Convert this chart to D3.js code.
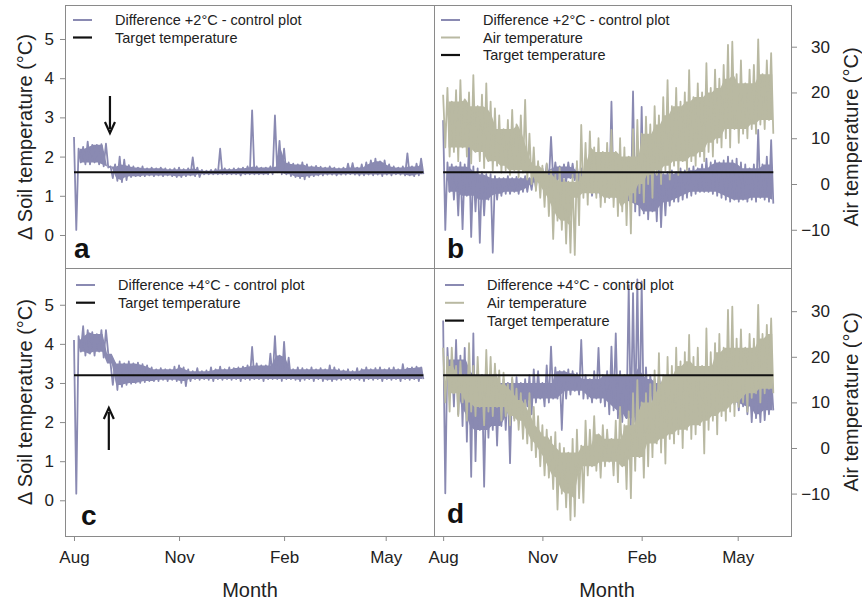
<!DOCTYPE html>
<html><head><meta charset="utf-8">
<script src="https://cdn.jsdelivr.net/npm/d3@7"></script>
<style>body{margin:0;background:#fff}svg{display:block}text{font-family:"Liberation Sans",Arial,sans-serif}</style>
</head><body><svg id="c" width="862" height="602"></svg>
<script>
// ---- data: envelopes (high / low) every 4 days from 1 Aug ----
const startDate = Date.UTC(2010, 7, 1);
const binDays = 4;
const monthLabels = ["Aug", "Nov", "Feb", "May"];
const monthDates = [Date.UTC(2010,7,1), Date.UTC(2010,10,1), Date.UTC(2011,1,1), Date.UTC(2011,4,1)];
const soilTicks = [0, 1, 2, 3, 4, 5];
const airTicks = [-10, 0, 10, 20, 30];
const target2 = 1.6;
const target4 = 3.2;

// panel a: difference +2°C - control
const diff2Hi = [2.5,2.2,2.25,2.38,2.3,2.3,2.32,2.33,1.75,1.8,2.0,1.92,1.78,1.75,1.72,1.75,1.7,1.72,1.7,1.72,1.7,1.68,1.7,1.72,1.68,1.7,1.98,1.72,1.66,1.64,1.66,1.68,2.2,1.7,1.68,1.7,1.7,1.72,1.75,3.18,1.75,1.72,1.72,1.75,3.05,2.4,2.2,1.85,1.82,1.8,1.85,1.8,1.75,1.76,1.74,1.72,1.75,1.72,1.7,1.72,1.82,1.83,1.72,1.8,1.85,1.9,1.95,1.88,1.9,1.8,1.75,1.72,1.75,2.08,1.75,1.82,1.95];
const diff2Lo = [0.13,1.85,1.8,1.8,1.85,1.8,1.75,1.72,1.45,1.38,1.35,1.4,1.48,1.5,1.5,1.5,1.52,1.5,1.52,1.5,1.52,1.5,1.48,1.48,1.5,1.52,1.5,1.48,1.55,1.55,1.55,1.55,1.55,1.55,1.55,1.55,1.52,1.55,1.55,1.55,1.55,1.55,1.55,1.55,1.6,1.55,1.55,1.5,1.48,1.45,1.42,1.48,1.5,1.52,1.52,1.54,1.54,1.52,1.54,1.54,1.55,1.54,1.52,1.52,1.54,1.52,1.54,1.5,1.54,1.52,1.55,1.54,1.52,1.52,1.5,1.52,1.55];

// panel c: difference +4°C - control
const diff4Hi = [4.1,4.2,4.45,4.35,4.3,4.25,4.35,4.35,3.5,3.5,3.55,3.5,3.55,3.5,3.52,3.48,3.45,3.4,3.35,3.38,3.35,3.35,3.42,3.45,3.4,3.35,3.3,3.38,3.3,3.32,3.4,3.35,3.42,3.35,3.4,3.38,3.4,3.42,3.45,3.92,3.5,3.45,3.45,3.75,4.2,3.7,4.05,3.65,3.35,3.4,3.38,3.35,3.4,3.35,3.38,3.35,3.45,3.4,3.35,3.32,3.35,3.3,3.38,3.35,3.4,3.35,3.38,3.4,3.35,3.38,3.4,3.35,3.48,3.38,3.4,3.42,3.4];
const diff4Lo = [0.17,3.8,3.7,3.75,3.7,3.8,3.65,3.75,2.95,2.82,2.9,2.95,2.98,3.0,3.0,3.02,3.05,3.05,3.05,3.08,3.05,3.08,3.05,3.0,2.92,3.05,3.1,3.08,3.1,3.08,3.05,3.1,3.08,3.1,3.08,3.1,3.05,3.1,3.08,3.1,3.1,3.05,3.1,3.1,3.1,3.05,3.1,3.1,3.08,3.05,3.08,3.1,3.05,3.1,3.05,3.08,3.05,3.08,3.08,3.1,3.08,3.1,3.08,3.05,3.1,3.08,3.1,3.05,3.1,3.08,3.1,3.05,3.1,3.08,3.1,3.05,3.1];

// panel b: difference +2°C (left scale) and air temperature (right scale)
const diff2bHi = [2.93,1.85,1.8,1.75,1.85,1.8,2.3,1.75,1.7,1.6,1.55,1.55,1.5,1.45,1.45,1.5,1.45,1.48,1.45,1.5,1.45,1.55,1.65,1.7,1.8,2.5,1.85,1.75,1.8,1.85,1.82,1.75,1.7,1.6,1.55,1.6,1.55,1.6,1.55,3.4,1.6,1.5,1.55,1.6,3.66,2.4,3.27,2.6,1.7,1.6,1.65,1.55,1.6,1.65,1.6,1.7,1.65,1.7,1.75,1.7,1.8,1.95,1.85,1.9,1.85,1.9,2.0,1.9,1.95,1.85,1.8,1.7,1.8,2.68,1.8,2.0,2.42];
const diff2bLo = [0.13,1.1,0.9,0.5,0.15,1.0,-0.05,0.6,-0.2,0.5,0.9,-0.45,0.9,1.0,1.05,1.05,1.1,1.05,1.1,1.1,1.15,1.2,1.3,1.35,1.35,1.4,1.4,1.3,1.35,1.45,1.4,1.3,1.2,1.1,1.0,1.05,0.95,1.0,0.95,0.95,0.9,0.85,0.8,0.75,0.6,0.5,0.55,0.4,0.6,0.35,0.2,0.5,0.75,0.85,0.85,0.9,0.95,1.0,1.05,1.1,1.1,1.1,1.05,1.0,0.95,0.9,0.85,0.9,0.85,0.9,0.85,0.9,0.85,0.95,0.9,0.85,0.8];
const air2Hi = [19.5,21,18,20.5,22.7,18.5,20,23.8,17,19.5,22,18,16.5,15,12,14,16.2,13,15,18.4,11,8,5,4,4.5,3,2,3.5,1,0.5,2,5,12.9,9,11.5,8,10,7,9,11.8,7,10,8,6,12,14,11,14.7,13,17,15,19,22.7,17,21,18,20,24.9,19,22,20,26.4,21,25,23,26,30.4,31.1,24,27,22,25,26,31.6,24,27,28.6];
const air2Lo = [8,6,7,5,8,6,4.5,7,5,3.5,5,3,4,2.5,3,2,3,1.5,2.5,1,0,-1.5,-3,-5,-7,-12,-8,-10,-13,-15,-15.5,-9,-3,-4.5,-2,-3,-5,-4,-3,-5,-7,-6,-9,-10.8,-4,-2,-4,0,-3,2,0,3,1,4,2,5,3,5,4,6,5,7,6,9,8,10,8,12,9,11,10,12,11,13,12,14,11];

// panel d: difference +4°C (left scale) and air temperature (right scale)
const diff4dHi = [4.6,3.9,3.6,4.1,3.7,3.9,3.6,4.27,3.3,3.2,3.0,3.1,3.05,3.0,3.1,3.0,3.1,3.15,3.0,3.1,3.2,3.35,3.3,3.0,3.45,3.93,3.4,3.3,3.3,3.35,3.3,3.25,4.1,3.2,3.1,3.3,3.9,3.2,3.3,3.93,4.27,3.3,3.2,5.5,5.3,5.65,5.6,3.4,3.2,3.1,3.2,3.0,3.1,3.0,3.05,3.15,3.1,3.05,3.0,3.1,3.05,3.0,3.05,3.0,3.1,3.05,3.0,3.1,3.0,3.05,3.0,3.1,3.05,3.0,3.1,3.0,3.2];
const diff4dLo = [0.18,2.8,2.4,2.2,1.9,1.5,0.6,1.0,1.8,0.35,1.6,1.8,1.4,1.9,1.8,0.95,2.1,2.3,2.2,2.4,2.2,2.5,2.6,2.4,2.5,2.6,2.6,1.8,2.6,2.7,2.8,2.7,2.6,2.6,2.5,2.6,2.5,2.4,2.2,2.3,2.1,2.0,2.1,1.9,2.0,1.8,2.0,2.3,2.5,2.6,2.7,2.7,2.7,2.75,2.7,2.7,2.75,2.7,2.7,2.65,2.7,2.6,2.65,2.5,2.55,2.4,2.5,2.45,2.3,2.4,2.2,2.0,2.1,2.0,2.05,2.2,2.3];
const air4Hi = [22,20,22,18,19,16,23,18,20,16,21.5,20,18.5,17,16.5,14,15.5,13,12,10.5,12,9,7,5,4,2.5,3.5,1,0,-1,2,4,0.5,6,4,7,3,5,4,2,6,9,5,8,12,14.9,10,12,14,17,20.8,16,20,18,22,19,21,24.8,20,22,18,26.2,21,23,25,22,30.3,31,24,26,22,25,24,31.4,25,27,28.4];
const air4Lo = [10,8,12,7,10,6,8,7,9,5,8,7,9,6,7,5,6,4,2,1,-0.5,-2,-4,-6,-6.5,-9,-13.5,-10,-13,-15.8,-15,-11,-12,-6,-4,-5,-6.5,-4,-3,-6,-7.5,-4,-9,-11,-5,-2,-6.5,-4,-2,1,-1,-3.4,2,1,3,0,4,2,3,5,-1.2,4,6,3,7,6,8,7,9,10,8,11,12,10,12,13,12];

// ---- drawing ----
const svg = d3.select("#c");
const PURPLE = "#8a8ab2", KHAKI = "#b9b9a2", FRAME = "#8a8a8a";
const DAY = 864e5;
const dOf = d => new Date(startDate + d * DAY);

const panels = {
  a: {x0:65, x1:434, y0:5, y1:268, dayL:-7.88, dayR:315.3, soil:[-0.842,5.867], air:null},
  b: {x0:434, x1:791, y0:5, y1:268, dayL:-8.46, dayR:322.4, soil:[-0.842,5.867], air:[-18.35,39.11]},
  c: {x0:65, x1:434, y0:268, y1:536, dayL:-7.88, dayR:315.3, soil:[-0.913,5.94], air:null},
  d: {x0:434, x1:791, y0:268, y1:536, dayL:-8.46, dayR:322.4, soil:[-0.913,5.94], air:[-19.3,39.47]}
};
for (const k in panels) {
  const p = panels[k];
  p.x = d3.scaleTime().domain([dOf(p.dayL), dOf(p.dayR)]).range([p.x0, p.x1]);
  p.ys = d3.scaleLinear().domain(p.soil).range([p.y1, p.y0]);
  if (p.air) p.ya = d3.scaleLinear().domain(p.air).range([p.y1, p.y0]);
}

const defs = svg.append("defs");
function clipFor(k) {
  const p = panels[k];
  defs.append("clipPath").attr("id", "clip" + k).append("rect")
    .attr("x", p.x0).attr("y", p.y0).attr("width", p.x1 - p.x0).attr("height", p.y1 - p.y0);
  return svg.append("g").attr("clip-path", `url(#clip${k})`);
}

function envPoints(hi, lo) {
  const pts = [];
  hi.forEach((h, i) => { pts.push([i * binDays, h]); pts.push([i * binDays + binDays / 2, lo[i]]); });
  return pts;
}
// solid core of the band: the part shared by neighbouring bins (window of +-win bins)
function corePoints(hi, lo, win) {
  const n = hi.length;
  return hi.map((h, i) => {
    const idx = d3.range(Math.max(0, i - win), Math.min(n, i + win + 1));
    const top = d3.min(idx, j => hi[j]);
    const bot = d3.max(idx, j => lo[j]);
    return {d: i * binDays + 1, top: Math.max(top, bot), bot: Math.min(top, bot)};
  }).slice(1);
}
function drawEnv(g, p, yScale, hi, lo, color, w, win) {
  const area = d3.area().x(d => p.x(dOf(d.d))).y0(d => yScale(d.bot)).y1(d => yScale(d.top));
  g.append("path").datum(corePoints(hi, lo, win)).attr("d", area).attr("fill", color).attr("stroke", "none");
  const line = d3.line().x(d => p.x(dOf(d[0]))).y(d => yScale(d[1]));
  g.append("path").datum(envPoints(hi, lo)).attr("d", line)
    .attr("fill", "none").attr("stroke", color).attr("stroke-width", w).attr("stroke-linejoin", "round");
}
function drawTarget(g, p, v, n) {
  const line = d3.line().x(d => p.x(dOf(d))).y(() => p.ys(v));
  g.append("path").datum([0, (n - 1) * binDays + binDays / 2]).attr("d", line)
    .attr("stroke", "#111").attr("stroke-width", 2).attr("fill", "none");
}

// panel a
let g = clipFor("a");
drawEnv(g, panels.a, panels.a.ys, diff2Hi, diff2Lo, PURPLE, 1.8, 1);
drawTarget(g, panels.a, target2, diff2Hi.length);
// panel c
g = clipFor("c");
drawEnv(g, panels.c, panels.c.ys, diff4Hi, diff4Lo, PURPLE, 1.8, 1);
drawTarget(g, panels.c, target4, diff4Hi.length);
// panel b
g = clipFor("b");
drawEnv(g, panels.b, panels.b.ys, diff2bHi, diff2bLo, PURPLE, 1.8, 2);
drawEnv(g, panels.b, panels.b.ya, air2Hi, air2Lo, KHAKI, 1.8, 2);
drawTarget(g, panels.b, target2, air2Hi.length);
// panel d
g = clipFor("d");
drawEnv(g, panels.d, panels.d.ys, diff4dHi, diff4dLo, PURPLE, 1.8, 2);
drawEnv(g, panels.d, panels.d.ya, air4Hi, air4Lo, KHAKI, 1.8, 2);
drawTarget(g, panels.d, target4, air4Hi.length);

// frames
for (const k in panels) {
  const p = panels[k];
  svg.append("rect").attr("x", p.x0 + 0.5).attr("y", p.y0 + 0.5)
    .attr("width", p.x1 - p.x0).attr("height", p.y1 - p.y0)
    .attr("fill", "none").attr("stroke", FRAME).attr("stroke-width", 1);
}

// axes
function styleAxis(sel, fs) {
  sel.select(".domain").remove();
  sel.selectAll(".tick line").attr("stroke", FRAME);
  sel.selectAll(".tick text").attr("fill", "#222").style("font-size", fs + "px")
    .style("font-family", '"Liberation Sans", Arial, sans-serif');
}
["a", "c"].forEach(k => {
  const p = panels[k];
  const ax = svg.append("g").attr("transform", `translate(${p.x0},0)`)
    .call(d3.axisLeft(p.ys).tickValues(soilTicks).tickSize(5).tickPadding(6).tickFormat(d3.format("d")));
  styleAxis(ax, 17);
});
["b", "d"].forEach(k => {
  const p = panels[k];
  const ax = svg.append("g").attr("transform", `translate(${p.x1 + 1},0)`)
    .call(d3.axisRight(p.ya).tickValues(airTicks).tickSize(5).tickPadding(33).tickFormat(d3.format("d")));
  styleAxis(ax, 17);
  ax.selectAll(".tick text").attr("text-anchor", "end");
});
["c", "d"].forEach(k => {
  const p = panels[k];
  const ax = svg.append("g").attr("transform", `translate(0,${p.y1 + 1})`)
    .call(d3.axisBottom(p.x).tickValues(monthDates.map(t => new Date(t))).tickSize(4).tickPadding(10)
      .tickFormat((d, i) => monthLabels[i]));
  styleAxis(ax, 17);
});

// axis titles
const title = (x, y, txt, rot) => svg.append("text").attr("x", 0).attr("y", 0)
  .attr("transform", `translate(${x},${y})` + (rot ? " rotate(-90)" : ""))
  .attr("text-anchor", "middle").attr("dominant-baseline", "central")
  .style("font-size", "20px").attr("fill", "#222").text(txt);
title(25, 137, "Δ Soil temperature (°C)", true);
title(25, 402, "Δ Soil temperature (°C)", true);
title(851, 137, "Air temperature (°C)", true);
title(851, 402, "Air temperature (°C)", true);
title(250, 590, "Month", false);
title(607, 590, "Month", false);

// panel letters
[["a", 74, 258], ["b", 447, 258], ["c", 81, 525], ["d", 447, 523]].forEach(([t, x, y]) =>
  svg.append("text").attr("x", x).attr("y", y).style("font-size", "28px").style("font-weight", "bold")
    .attr("fill", "#111").text(t));

// legends
function legend(x, y, items) {
  items.forEach((it, i) => {
    const yy = y + i * it.dy;
    svg.append("line").attr("x1", x).attr("x2", x + 19).attr("y1", yy).attr("y2", yy)
      .attr("stroke", it.c).attr("stroke-width", it.c === "#111" ? 2.2 : 2);
    svg.append("text").attr("x", x + 42).attr("y", yy).attr("dominant-baseline", "central")
      .style("font-size", "14.5px").attr("fill", "#222").text(it.t);
  });
}
legend(73, 20, [{t:"Difference +2°C - control plot", c:PURPLE, dy:17.5}, {t:"Target temperature", c:"#111", dy:17.5}]);
legend(441, 20, [{t:"Difference +2°C - control plot", c:PURPLE, dy:17.5}, {t:"Air temperature", c:KHAKI, dy:17.5}, {t:"Target temperature", c:"#111", dy:17.5}]);
legend(76, 285, [{t:"Difference +4°C - control plot", c:PURPLE, dy:17.7}, {t:"Target temperature", c:"#111", dy:17.7}]);
legend(445, 285, [{t:"Difference +4°C - control plot", c:PURPLE, dy:17.8}, {t:"Air temperature", c:KHAKI, dy:17.8}, {t:"Target temperature", c:"#111", dy:17.8}]);

// arrows (data-anchored: date of heating step)
function arrow(p, day, yFrom, yTo) {
  const x = p.x(dOf(day));
  const dir = yTo > yFrom ? 1 : -1;
  svg.append("line").attr("x1", x).attr("x2", x).attr("y1", yFrom).attr("y2", yTo - dir * 4)
    .attr("stroke", "#111").attr("stroke-width", 2.2);
  svg.append("path").attr("d", `M${x - 5},${yTo - dir * 11} L${x},${yTo} L${x + 5},${yTo - dir * 11}`)
    .attr("fill", "none").attr("stroke", "#111").attr("stroke-width", 2.2);
}
arrow(panels.a, 31.5, 96, 133);
arrow(panels.c, 30.5, 450, 408);
</script></body></html>
